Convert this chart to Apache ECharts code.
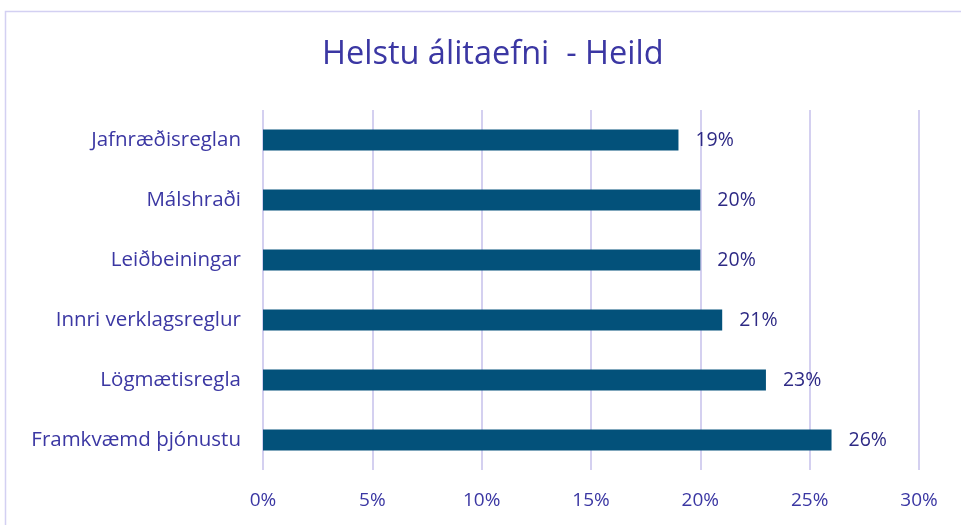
<!DOCTYPE html>
<html>
<head>
<meta charset="utf-8">
<script src="https://cdn.jsdelivr.net/npm/echarts@6/dist/echarts.min.js"></script>
<style>
  html, body { margin: 0; padding: 0; background: #fff; }
  #main { width: 961px; height: 525px; }
</style>
</head>
<body>
<div id="main"></div>
<script>
  // data, bottom to top as echarts draws category axes
  var categories = ['Framkvæmd þjónustu', 'Lögmætisregla', 'Innri verklagsreglur', 'Leiðbeiningar', 'Málshraði', 'Jafnræðisreglan'];
  var values = [26, 23, 21, 20, 20, 19];

  var txtColor = '#3b37a3';
  var myChart = echarts.init(document.getElementById('main'));
  myChart.setOption({
    backgroundColor: '#fff',
    textStyle: { fontFamily: 'Open Sans' },
    graphic: [{
      type: 'rect',
      shape: { x: 5.5, y: 11.5, width: 970, height: 530 },
      style: { fill: 'none', stroke: '#d3d0f2', lineWidth: 1.5 },
      silent: true
    }],
    title: {
      text: 'Helstu álitaefni  - Heild',
      left: 317,
      top: 33,
      textStyle: { color: txtColor, fontSize: 32.5, fontWeight: 'normal', fontFamily: 'Open Sans' }
    },
    grid: { left: 263, right: 42, top: 110, bottom: 55, containLabel: false },
    xAxis: {
      type: 'value',
      min: 0,
      max: 30,
      interval: 5,
      axisLine: { show: false },
      axisTick: { show: false },
      axisLabel: { color: txtColor, fontSize: 19, margin: 21, formatter: '{value}%' },
      splitLine: { lineStyle: { color: '#d4d0f0', width: 2 } }
    },
    yAxis: {
      type: 'category',
      data: categories,
      axisLine: { show: false },
      axisTick: { show: false },
      axisLabel: { color: txtColor, fontSize: 20.5, margin: 22 }
    },
    series: [{
      type: 'bar',
      data: values,
      barWidth: 21,
      itemStyle: { color: '#03517a' },
      label: {
        show: true,
        position: 'right',
        distance: 17,
        color: '#2e2a85',
        fontSize: 19.5,
        formatter: '{c}%'
      }
    }]
  });
</script>
</body>
</html>
